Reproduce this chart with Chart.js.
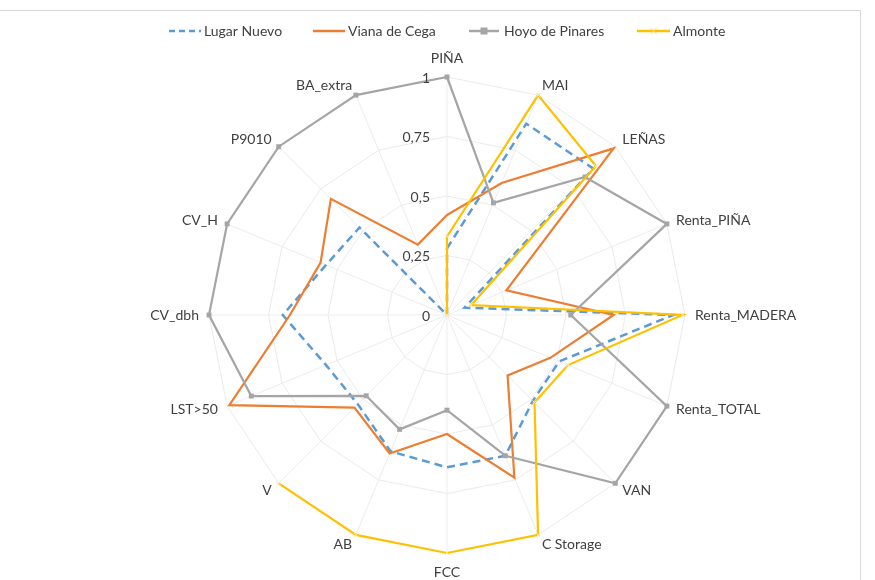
<!DOCTYPE html>
<html><head><meta charset="utf-8">
<script src="https://cdn.jsdelivr.net/npm/chart.js@4.4.0/dist/chart.umd.min.js"></script>
<style>html,body{margin:0;padding:0;background:#fff;}</style>
</head><body>
<canvas id="c" width="875" height="580"></canvas>
<script>
const categories = ['PIÑA','MAI','LEÑAS','Renta_PIÑA','Renta_MADERA','Renta_TOTAL','VAN','C Storage','FCC','AB','V','LST>50','CV_dbh','CV_H','P9010','BA_extra'];
const lugarNuevo    = [0.28, 0.87, 0.87, 0.08, 0.95, 0.51, 0.51, 0.64, 0.64, 0.62, 0.53, 0.55, 0.69, 0.55, 0.52, 0];
const vianaDeCega   = [0.42, 0.60, 0.99, 0.27, 0.70, 0.47, 0.36, 0.74, 0.50, 0.63, 0.55, 0.99, 0.66, 0.575, 0.69, 0.32];
const hoyoDePinares = [1, 0.51, 0.82, 1, 0.52, 1, 1, 0.64, 0.40, 0.52, 0.48, 0.89, 1, 1, 1, 1];
const almonte       = [0.33, 1, 0.885, 0.11, 0.99, 0.55, 0.52, 1, 1, 1, 1, null, null, null, null, 0];
const seriesNames = ['Lugar Nuevo', 'Viana de Cega', 'Hoyo de Pinares', 'Almonte'];
const tickValues = [0, 0.25, 0.5, 0.75, 1];
const tickLabels = ['0', '0,25', '0,5', '0,75', '1'];

const COLORS = ['#5b9bd5', '#ed7d31', '#a5a5a5', '#ffc000'];
const FONT = "Lato, 'Liberation Sans', sans-serif";
const TEXT = '#404040';

const overlay = {
  id: 'overlay',
  beforeDraw(chart) {
    const c = chart.ctx;
    c.save();
    c.fillStyle = '#fff';
    c.fillRect(0, 0, chart.width, chart.height);
    c.strokeStyle = '#d9d9d9';
    c.lineWidth = 1;
    c.beginPath();
    c.moveTo(0, 10.5); c.lineTo(860.5, 10.5); c.lineTo(860.5, 580);
    c.stroke();
    c.restore();
  },
  afterDraw(chart) {
    const c = chart.ctx;
    const s = chart.scales.r;
    c.save();
    c.font = '14px ' + FONT;
    c.fillStyle = TEXT;
    c.textAlign = 'right';
    c.textBaseline = 'middle';
    tickValues.forEach((v, i) => {
      const d = s.getDistanceFromCenterForValue(v);
      c.fillText(tickLabels[i], s.xCenter - 17, s.yCenter - d + 1);
    });
    const R = s.drawingArea;
    categories.forEach((lab, i) => {
      const a = i * 2 * Math.PI / categories.length;
      const sn = Math.sin(a), cs = Math.cos(a);
      let off = R + 10;
      if (Math.abs(sn) < 0.1) off = R + 19;
      const x = s.xCenter + sn * off;
      const y = s.yCenter - cs * off;
      c.textAlign = sn > 0.1 ? 'left' : (sn < -0.1 ? 'right' : 'center');
      c.textBaseline = 'middle';
      c.fillText(lab, x, y);
    });
    const items = [
      {x0: 169, x1: 201, tx: 204, dash: [6, 4], marker: null},
      {x0: 313, x1: 345, tx: 348, dash: [], marker: null},
      {x0: 469, x1: 499, tx: 504, dash: [], marker: 'rect'},
      {x0: 637, x1: 670, tx: 673, dash: [], marker: 'star'}
    ];
    const ly = 31;
    items.forEach((it, i) => {
      c.strokeStyle = COLORS[i];
      c.lineWidth = 2.5;
      c.setLineDash(it.dash);
      c.beginPath(); c.moveTo(it.x0, ly); c.lineTo(it.x1, ly); c.stroke();
      c.setLineDash([]);
      const mx = (it.x0 + it.x1) / 2;
      if (it.marker === 'rect') {
        c.fillStyle = COLORS[i];
        c.fillRect(mx - 3.5, ly - 3.5, 7, 7);
      } else if (it.marker === 'star') {
        c.strokeStyle = '#ffd966'; c.lineWidth = 1;
        c.beginPath();
        c.moveTo(mx - 3, ly - 3); c.lineTo(mx + 3, ly + 3);
        c.moveTo(mx + 3, ly - 3); c.lineTo(mx - 3, ly + 3);
        c.stroke();
      }
      c.fillStyle = TEXT;
      c.textAlign = 'left';
      c.textBaseline = 'middle';
      c.font = '14px ' + FONT;
      c.fillText(seriesNames[i], it.tx, ly);
    });
    c.restore();
  }
};

new Chart(document.getElementById('c'), {
  type: 'radar',
  data: {
    labels: categories,
    datasets: [
      {label: seriesNames[0], data: lugarNuevo, borderColor: COLORS[0], backgroundColor: COLORS[0], borderWidth: 2.5, borderDash: [8, 5], pointRadius: 0, fill: false, order: 4},
      {label: seriesNames[1], data: vianaDeCega, borderColor: COLORS[1], backgroundColor: COLORS[1], borderWidth: 2.2, pointRadius: 0, fill: false, order: 3},
      {label: seriesNames[2], data: hoyoDePinares, borderColor: COLORS[2], backgroundColor: COLORS[2], borderWidth: 2.2, pointStyle: 'rect', pointRadius: 3.5, pointBorderWidth: 0, fill: false, order: 2},
      {label: seriesNames[3], data: almonte, borderColor: COLORS[3], backgroundColor: COLORS[3], borderWidth: 2.2, pointStyle: 'crossRot', pointRadius: 3, pointBorderWidth: 1, pointBorderColor: '#ffe699', fill: false, spanGaps: false, order: 1}
    ]
  },
  options: {
    responsive: false,
    animation: false,
    devicePixelRatio: 1,
    layout: {padding: {top: 77, bottom: 27, left: 209, right: 190}},
    plugins: {legend: {display: false}, tooltip: {enabled: false}},
    elements: {line: {tension: 0}},
    scales: {
      r: {
        min: 0, max: 1,
        ticks: {display: false, stepSize: 0.25},
        pointLabels: {display: false},
        grid: {color: '#ebebeb', lineWidth: 1, circular: false},
        angleLines: {color: '#ededed', lineWidth: 1}
      }
    }
  },
  plugins: [overlay]
});
</script>
</body></html>
